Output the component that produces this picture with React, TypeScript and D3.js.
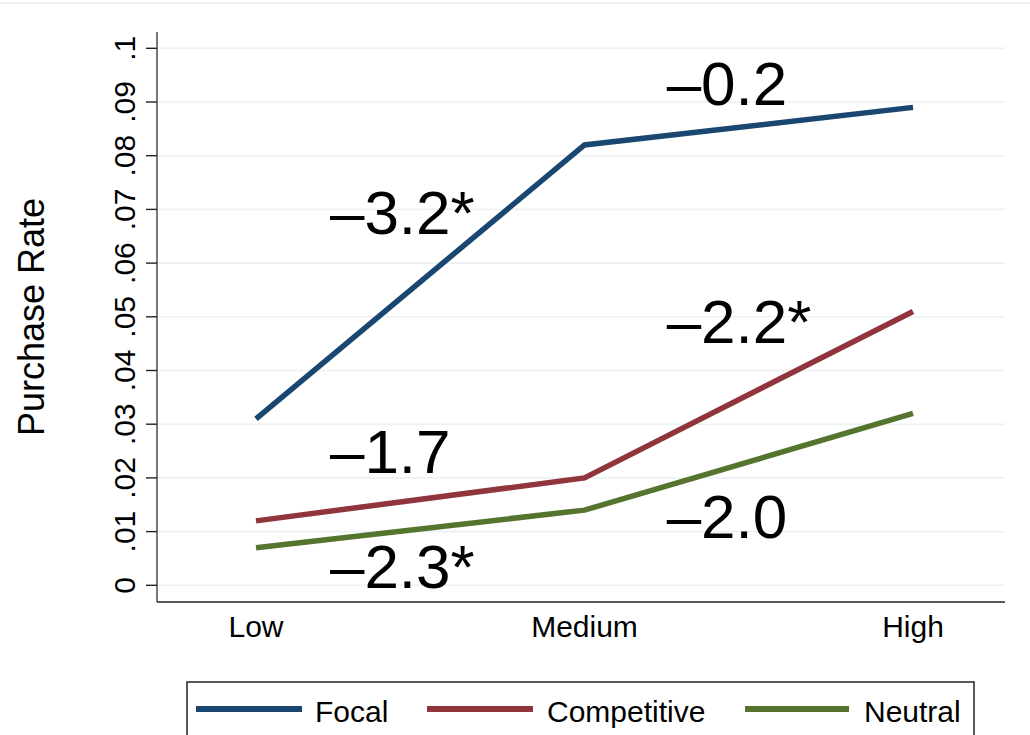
import React from "react";
import * as d3 from "d3";

const W = 1030;
const H = 735;

const categories = ["Low", "Medium", "High"];
const seriesNames = ["Focal", "Competitive", "Neutral"];
const focal = [0.031, 0.082, 0.089];
const competitive = [0.012, 0.02, 0.051];
const neutral = [0.007, 0.014, 0.032];
const colors = ["#1a476f", "#90353b", "#55752f"];
const yTicks = [0, 0.01, 0.02, 0.03, 0.04, 0.05, 0.06, 0.07, 0.08, 0.09, 0.1];
const yTickLabels = ["0", ".01", ".02", ".03", ".04", ".05", ".06", ".07", ".08", ".09", ".1"];

// annotation text, x in category-index units, y in data units (baseline)
const noteText = ["\u20133.2*", "\u20130.2", "\u20132.2*", "\u20131.7", "\u20132.0", "\u20132.3*"];
const noteX = [0.225, 1.25, 1.25, 0.225, 1.25, 0.225];
const noteY = [0.0654, 0.0894, 0.0451, 0.0209, 0.0088, -0.0005];

const FONT = "'Liberation Sans', Arial, Helvetica, sans-serif";

export default function App() {
  const x = d3.scalePoint<string>().domain(categories).range([256, 913]);
  const xi = d3.scaleLinear().domain([0, 2]).range([256, 913]);
  const y = d3.scaleLinear().domain([0, 0.1]).range([585.3, 48.3]);

  const left = 157;
  const right = 1005;
  const top = 32;
  const bottom = 602;

  const line = d3
    .line<number>()
    .x((_, i) => x(categories[i]) as number)
    .y((d) => y(d));

  const series = [focal, competitive, neutral];

  const legendLines = [
    [196, 302, 315],
    [427, 533, 547],
    [745, 849, 864],
  ];

  return (
    <svg
      width={W}
      height={H}
      style={{ position: "absolute", left: 0, top: 0, background: "#fff" }}
      fontFamily={FONT}
    >
      <rect x={0} y={0} width={W} height={H} fill="#fff" />
      <line x1={0} x2={W} y1={3} y2={3} stroke="#e6e9ea" strokeWidth={1.5} />

      {/* gridlines */}
      {yTicks.map((t) => (
        <line key={"g" + t} x1={left} x2={right} y1={y(t)} y2={y(t)} stroke="#eaf2f3" strokeWidth={1.6} />
      ))}

      {/* axes */}
      <line x1={left} x2={left} y1={top} y2={bottom} stroke="#555" strokeWidth={1.6} />
      <line x1={left} x2={right} y1={bottom} y2={bottom} stroke="#222" strokeWidth={1.6} />

      {yTicks.map((t, i) => (
        <g key={"t" + t}>
          <line x1={146} x2={left} y1={y(t)} y2={y(t)} stroke="#222" strokeWidth={1.4} />
          <text
            transform={`translate(135,${y(t)}) rotate(-90)`}
            textAnchor="middle"
            fontSize={30}
            fill="#000"
          >
            {yTickLabels[i]}
          </text>
        </g>
      ))}

      <text
        transform={`translate(44,${(top + bottom) / 2}) rotate(-90)`}
        textAnchor="middle"
        fontSize={36}
        fill="#000"
      >
        Purchase Rate
      </text>

      {categories.map((c) => (
        <text key={c} x={x(c)} y={637} textAnchor="middle" fontSize={30} fill="#000">
          {c}
        </text>
      ))}

      {/* series lines */}
      {series.map((s, i) => (
        <path key={seriesNames[i]} d={line(s) || ""} fill="none" stroke={colors[i]} strokeWidth={5.5} />
      ))}

      {/* annotations */}
      {noteText.map((t, i) => (
        <text key={"n" + i} x={xi(noteX[i])} y={y(noteY[i])} fontSize={62} fill="#000">
          {t}
        </text>
      ))}

      {/* legend */}
      <rect x={187} y={682} width={787} height={80} fill="#fff" stroke="#222" strokeWidth={1.5} />
      {seriesNames.map((n, i) => (
        <g key={"l" + n}>
          <line
            x1={legendLines[i][0]}
            x2={legendLines[i][1]}
            y1={709}
            y2={709}
            stroke={colors[i]}
            strokeWidth={6}
          />
          <text x={legendLines[i][2]} y={722} fontSize={30} fill="#000">
            {n}
          </text>
        </g>
      ))}
    </svg>
  );
}
